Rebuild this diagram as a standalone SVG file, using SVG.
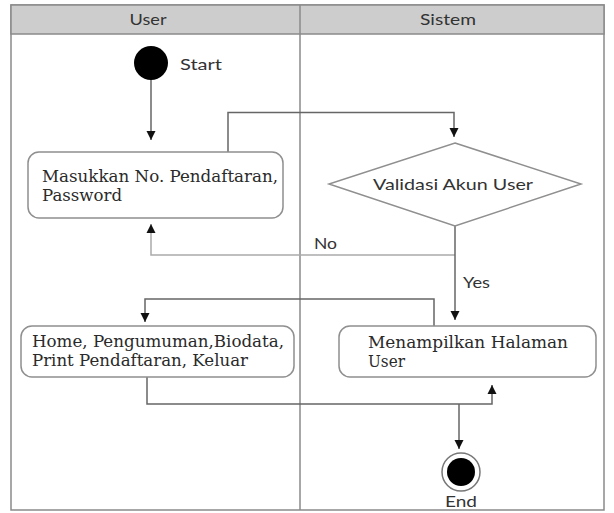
<svg xmlns="http://www.w3.org/2000/svg" width="614" height="513" viewBox="0 0 614 513">
<style>
.lane{fill:none;stroke:#8a8a8a;stroke-width:1.5}
.hdr{fill:#cdcdcd;stroke:#8a8a8a;stroke-width:1.5}
.ht{font-family:Lato,"Liberation Sans",sans-serif;font-size:16px;fill:#333}
.lbl{font-family:Lato,"Liberation Sans",sans-serif;font-size:16px;fill:#333}
.box{fill:#fff;stroke:#8f8f8f;stroke-width:1.5}
.bt{font-family:"DejaVu Serif","Liberation Serif",serif;font-size:16px;fill:#2a2a2a}
.con{fill:none;stroke:#666;stroke-width:1.5}
.con2{fill:none;stroke:#aaa;stroke-width:1.5}
</style>
<defs>
<marker id="ah" viewBox="0 0 10 10" refX="10" refY="5" markerWidth="9" markerHeight="11" markerUnits="userSpaceOnUse" orient="auto">
<path d="M0,0 L10,5 L0,10 z" fill="#111"/>
</marker>
</defs>
<g id="swimlanes">
<rect class="lane" x="11" y="5" width="593" height="505"/>
<rect class="hdr" x="11" y="5" width="593" height="29"/>
<line class="lane" x1="300" y1="5" x2="300" y2="510"/>
<text class="ht" x="148" y="25" text-anchor="middle" textLength="37" lengthAdjust="spacingAndGlyphs">User</text>
<text class="ht" x="448" y="25" text-anchor="middle" textLength="56" lengthAdjust="spacingAndGlyphs">Sistem</text>
</g>
<g id="connectors">
<path class="con" d="M151,79 V140" marker-end="url(#ah)"/>
<path class="con" d="M228,152 V112.5 H454 V137" marker-end="url(#ah)"/>
<path class="con2" d="M455,255 H151 V224" marker-end="url(#ah)"/>
<path class="con" d="M455,226 V320" marker-end="url(#ah)"/>
<path class="con" d="M434,326 V299 H145 V322" marker-end="url(#ah)"/>
<path class="con" d="M147,377 V404 H492 V385" marker-end="url(#ah)"/>
<path class="con" d="M459,404 V449" marker-end="url(#ah)"/>
<text class="lbl" x="314" y="249" textLength="23" lengthAdjust="spacingAndGlyphs">No</text>
<text class="lbl" x="463" y="288" textLength="27" lengthAdjust="spacingAndGlyphs">Yes</text>
</g>
<g id="start">
<circle cx="151" cy="63" r="17" fill="#000"/>
<text class="lbl" x="180" y="70" textLength="42" lengthAdjust="spacingAndGlyphs">Start</text>
</g>
<g id="input">
<rect class="box" x="28" y="152" width="255" height="66" rx="11"/>
<text class="bt" x="42" y="182" textLength="236" lengthAdjust="spacingAndGlyphs">Masukkan No. Pendaftaran,</text>
<text class="bt" x="42" y="201" textLength="80" lengthAdjust="spacingAndGlyphs">Password</text>
</g>
<g id="validasi">
<polygon points="455,143 581,184 455,226 329,184" fill="#fff" stroke="#8f8f8f" stroke-width="1.5"/>
<text class="lbl" x="453" y="190" text-anchor="middle" textLength="160" lengthAdjust="spacingAndGlyphs">Validasi Akun User</text>
</g>
<g id="halaman">
<rect class="box" x="339" y="326" width="257" height="51" rx="11"/>
<text class="bt" x="368" y="348" textLength="200" lengthAdjust="spacingAndGlyphs">Menampilkan Halaman</text>
<text class="bt" x="368" y="367" textLength="37" lengthAdjust="spacingAndGlyphs">User</text>
</g>
<g id="menu">
<rect class="box" x="21" y="326" width="273" height="51" rx="11"/>
<text class="bt" x="32" y="347" textLength="252" lengthAdjust="spacingAndGlyphs">Home, Pengumuman,Biodata,</text>
<text class="bt" x="32" y="366" textLength="216" lengthAdjust="spacingAndGlyphs">Print Pendaftaran, Keluar</text>
</g>
<g id="end">
<circle cx="461" cy="472" r="19" fill="#fff" stroke="#777" stroke-width="1.5"/>
<circle cx="461" cy="472" r="14" fill="#000"/>
<text class="lbl" x="461" y="507" text-anchor="middle" textLength="32" lengthAdjust="spacingAndGlyphs">End</text>
</g>
</svg>
